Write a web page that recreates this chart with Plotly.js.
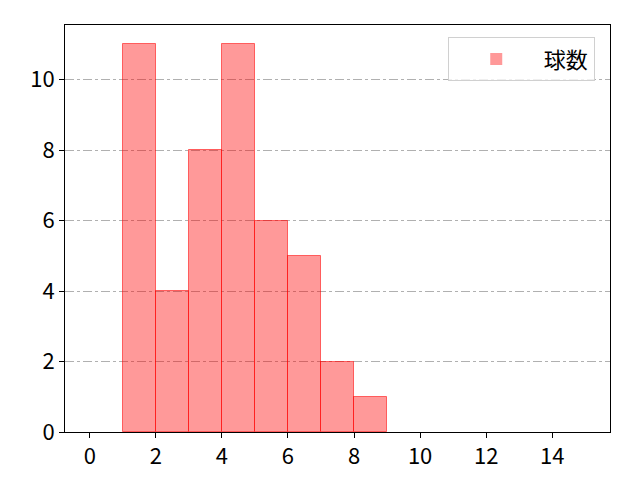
<!DOCTYPE html>
<html>
<head>
<meta charset="utf-8">
<script src="https://cdn.plot.ly/plotly-3.0.1.min.js"></script>
<style>
  body { margin: 0; }
  #chart { width: 640px; height: 480px; }
</style>
</head>
<body>
<div id="chart"></div>
<script>
// histogram bins (left edges, width 1) and counts
var binStart = [0, 1, 2, 3, 4, 5, 6, 7, 8, 9, 10, 11, 12, 13, 14];
var counts   = [0, 11, 4, 8, 11, 6, 5, 2, 1, 0, 0, 0, 0, 0, 0];
var seriesName = '球数';
var xTicks = [0, 2, 4, 6, 8, 10, 12, 14];
var yTicks = [0, 2, 4, 6, 8, 10];

var font = 'Noto Sans CJK JP, DejaVu Sans, sans-serif';

var trace = {
  type: 'bar',
  x: binStart,
  y: counts,
  width: 1,
  offset: 0,
  name: seriesName,
  showlegend: true,
  marker: {
    color: 'rgba(255,0,0,0.4)',
    line: {
      color: 'rgba(255,0,0,0.55)',
      width: counts.map(function (c) { return c > 0 ? 1 : 0; })
    }
  }
};

var layout = {
  width: 640,
  height: 480,
  paper_bgcolor: '#fff',
  plot_bgcolor: '#fff',
  margin: { l: 65, r: 30, t: 25, b: 48, pad: 0 },
  font: { family: font, size: 22, color: '#000' },
  bargap: 0,
  showlegend: true,
  legend: {
    x: 0.972, y: 0.97, xanchor: 'right', yanchor: 'top',
    bgcolor: 'rgba(255,255,255,0.8)',
    bordercolor: '#d0d0d0', borderwidth: 1,
    font: { family: font, size: 22 },
    itemwidth: 85
  },
  xaxis: {
    range: [-0.75, 15.75],
    tickvals: xTicks,
    ticks: 'outside', ticklen: 5, tickcolor: '#000',
    tickfont: { size: 22 },
    showgrid: false, zeroline: false,
    showline: true, linecolor: '#000', linewidth: 1, mirror: true
  },
  yaxis: {
    range: [0, 11.55],
    tickvals: yTicks,
    ticks: 'outside', ticklen: 5, tickcolor: '#000',
    tickfont: { size: 22 },
    showgrid: true, gridcolor: '#b0b0b0', gridwidth: 0.8, griddash: 'dashdot',
    zeroline: false,
    showline: true, linecolor: '#000', linewidth: 1, mirror: true
  }
};

Plotly.newPlot('chart', [trace], layout, { displayModeBar: false });
</script>
</body>
</html>
